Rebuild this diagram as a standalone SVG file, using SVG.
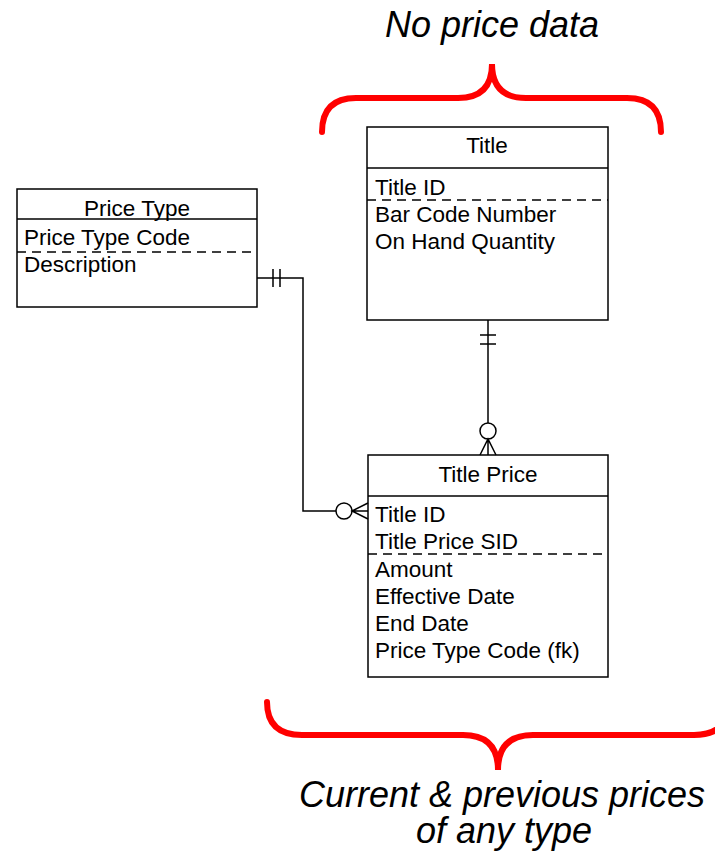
<svg xmlns="http://www.w3.org/2000/svg" width="715" height="861" viewBox="0 0 715 861">
<style>
.box{fill:#fff;stroke:#000;stroke-width:1.5}
.ln{fill:none;stroke:#000;stroke-width:1.5}
.dash{fill:none;stroke:#000;stroke-width:1.5;stroke-dasharray:9,6}
.t{font-family:"Liberation Sans",Arial,sans-serif;font-size:22.5px;fill:#000}
.h{font-family:"Liberation Sans",Arial,sans-serif;font-size:22.5px;fill:#000;text-anchor:middle}
.note{font-family:"Liberation Sans",Arial,sans-serif;font-size:36px;font-style:italic;fill:#000;text-anchor:middle}
.brace{fill:none;stroke:#f00;stroke-width:6;stroke-linecap:round}
</style>
<rect width="715" height="861" fill="#fff"/>
<g id="price-type">
<rect class="box" x="17" y="189" width="240" height="118"/>
<line class="ln" x1="17" y1="219" x2="257" y2="219"/>
<line class="dash" x1="17" y1="252" x2="257" y2="252"/>
<text class="h" x="137" y="216">Price Type</text>
<text class="t" x="24" y="245">Price Type Code</text>
<text class="t" x="24" y="272">Description</text>
</g>
<g id="title">
<rect class="box" x="367" y="127" width="241" height="193"/>
<line class="ln" x1="367" y1="168" x2="608" y2="168"/>
<line class="dash" x1="367" y1="200" x2="608" y2="200"/>
<text class="h" x="487" y="153">Title</text>
<text class="t" x="375" y="195">Title ID</text>
<text class="t" x="375" y="222">Bar Code Number</text>
<text class="t" x="375" y="249">On Hand Quantity</text>
</g>
<g id="title-price">
<rect class="box" x="368" y="455" width="240" height="222"/>
<line class="ln" x1="368" y1="496" x2="608" y2="496"/>
<line class="dash" x1="368" y1="554" x2="608" y2="554"/>
<text class="h" x="488" y="482">Title Price</text>
<text class="t" x="375" y="522">Title ID</text>
<text class="t" x="375" y="549">Title Price SID</text>
<text class="t" x="375" y="577">Amount</text>
<text class="t" x="375" y="604">Effective Date</text>
<text class="t" x="375" y="631">End Date</text>
<text class="t" x="375" y="658">Price Type Code (fk)</text>
</g>
<g id="connectors">
<path class="ln" d="M488,320 V423"/>
<path class="ln" d="M480,335 H496 M480,344 H496"/>
<circle class="ln" cx="488" cy="431" r="8"/>
<path class="ln" d="M480,455 L488,439 L496,455 M488,439 V455"/>
<path class="ln" d="M257,278 H303 V511 H336"/>
<path class="ln" d="M273,269 V287 M280,269 V287"/>
<circle class="ln" cx="344" cy="511" r="8"/>
<path class="ln" d="M368,503 L352,511 L368,519 M352,511 H368"/>
</g>
<g id="annotations">
<path class="brace" d="M322,132 Q322,98 356,98 L458,98 Q492,98 492,64 Q492,98 526,98 L627,98 Q661,98 661,132"/>
<path class="brace" d="M267,702 Q267,735 302,735 L463,735 Q498,735 498,770 Q498,735 533,735 L694,735 Q729,735 729,702"/>
<text class="note" x="492" y="37">No price data</text>
<text class="note" x="502" y="807">Current &amp; previous prices</text>
<text class="note" x="504" y="843">of any type</text>
</g>
</svg>
